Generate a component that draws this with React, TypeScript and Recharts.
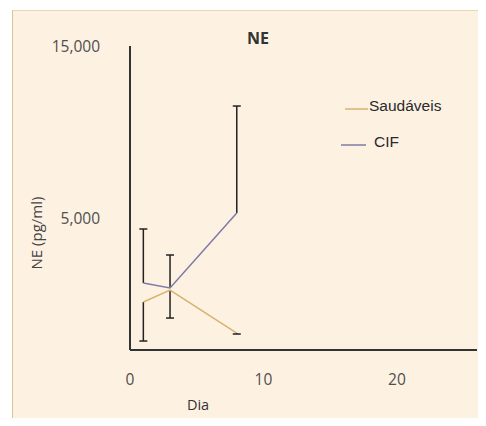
import React from "react";
import { LineChart, Line, XAxis, YAxis, ErrorBar, Scatter } from "recharts";

const days = [1, 3, 8];
const saudaveis = [180, 870, -1620];
const saudaveisErrLow = [2260, 1620, 55];
const cif = [1280, 990, 5330];
const cifErrHigh = [3125, 1910, 6195];
const yTicks = [5000, 15000];
const xTicks = [0, 10, 20];
const seriesNames = ["Saudáveis", "CIF"];
const seriesColors = ["#D9B36E", "#7F7BA6"];

const data = days.map((d, i) => ({
  dia: d,
  saud: saudaveis[i],
  saudErr: [saudaveisErrLow[i], 0],
  cif: cif[i],
  cifErr: [0, cifErrHigh[i]],
}));

const caps = [
  ...days.map((d, i) => ({ dia: d, cap: saudaveis[i] - saudaveisErrLow[i] })),
  ...days.map((d, i) => ({ dia: d, cap: cif[i] + cifErrHigh[i] })),
];

const CapShape = (props: any) => {
  const { cx, cy } = props;
  return <line x1={cx - 4} x2={cx + 4} y1={cy} y2={cy} stroke="#222" strokeWidth={1.5} />;
};

const LegendBox = () => (
  <div
    style={{
      position: "absolute",
      left: 330,
      top: 96,
      fontFamily: "Liberation Sans, Arial, sans-serif",
      fontSize: 15.5,
      color: "#2a2a2a",
    }}
  >
    <div style={{ position: "relative", height: 36 }}>
      <svg width={26} height={4} style={{ position: "absolute", left: 0, top: 0 }}>
        <line x1={2} x2={25} y1={2} y2={2} stroke={seriesColors[0]} strokeWidth={1.5} />
      </svg>
      <span style={{ position: "absolute", left: 26, top: -10, whiteSpace: "nowrap" }}>{seriesNames[0]}</span>
    </div>
    <div style={{ position: "relative", height: 20 }}>
      <svg width={28} height={4} style={{ position: "absolute", left: -2, top: 0 }}>
        <line x1={0} x2={25} y1={2} y2={2} stroke={seriesColors[1]} strokeWidth={1.5} />
      </svg>
      <span style={{ position: "absolute", left: 31, top: -10, whiteSpace: "nowrap" }}>{seriesNames[1]}</span>
    </div>
  </div>
);

export default function App() {
  const font = "'Open Sans', sans-serif";
  return (
    <div
      style={{
        position: "relative",
        width: 474,
        height: 408,
        marginLeft: 4,
        marginTop: 2,
        boxSizing: "border-box",
        background: "#FDF1E2",
        borderLeft: "1.5px solid #D6C39C",
        borderTop: "1.5px solid #E6D6B4",
        overflow: "hidden",
      }}
    >
      <LineChart
        width={474}
        height={408}
        data={data}
        margin={{ top: 36, right: 9, bottom: 0, left: 0 }}
        style={{ position: "absolute", left: -1.5, top: -1.5 }}
      >
        <XAxis
          dataKey="dia"
          type="number"
          domain={[0, 26]}
          ticks={xTicks}
          allowDataOverflow
          height={68}
          tickLine={false}
          axisLine={{ stroke: "#333", strokeWidth: 2 }}
          tick={{ fill: "#4f4f4f", fontSize: 15.5, fontFamily: font }}
          tickMargin={18}
        />
        <YAxis
          type="number"
          domain={[-2600, 15000]}
          ticks={yTicks}
          allowDataOverflow
          width={118}
          tickLine={false}
          axisLine={{ stroke: "#333", strokeWidth: 2 }}
          tick={{ fill: "#4f4f4f", fontSize: 15.5, fontFamily: font }}
          tickFormatter={(v: number) => v.toLocaleString("en-US")}
          tickMargin={24}
        />
        <Line
          dataKey="saud"
          name={seriesNames[0]}
          stroke={seriesColors[0]}
          strokeWidth={1.5}
          dot={false}
          activeDot={false}
          isAnimationActive={false}
        >
          <ErrorBar dataKey="saudErr" direction="y" width={0} stroke="#222" strokeWidth={1.5} />
        </Line>
        <Line
          dataKey="cif"
          name={seriesNames[1]}
          stroke={seriesColors[1]}
          strokeWidth={1.5}
          dot={false}
          activeDot={false}
          isAnimationActive={false}
        >
          <ErrorBar dataKey="cifErr" direction="y" width={0} stroke="#222" strokeWidth={1.5} />
        </Line>
        <Scatter data={caps} dataKey="cap" shape={<CapShape />} isAnimationActive={false} legendType="none" />
      </LineChart>
      <LegendBox />
      <div
        style={{
          position: "absolute",
          left: 245,
          top: 16,
          transform: "translateX(-50%)",
          fontFamily: font,
          fontWeight: 700,
          fontSize: 16,
          color: "#333",
        }}
      >
        NE
      </div>
      <div
        style={{
          position: "absolute",
          left: 185,
          top: 384,
          transform: "translateX(-50%)",
          fontFamily: font,
          fontSize: 14.5,
          color: "#333",
        }}
      >
        Dia
      </div>
      <div
        style={{
          position: "absolute",
          left: 23,
          top: 222,
          transform: "translate(-50%, -50%) rotate(-90deg)",
          fontFamily: font,
          fontSize: 15,
          color: "#444",
          whiteSpace: "nowrap",
        }}
      >
        NE (pg/ml)
      </div>
    </div>
  );
}
